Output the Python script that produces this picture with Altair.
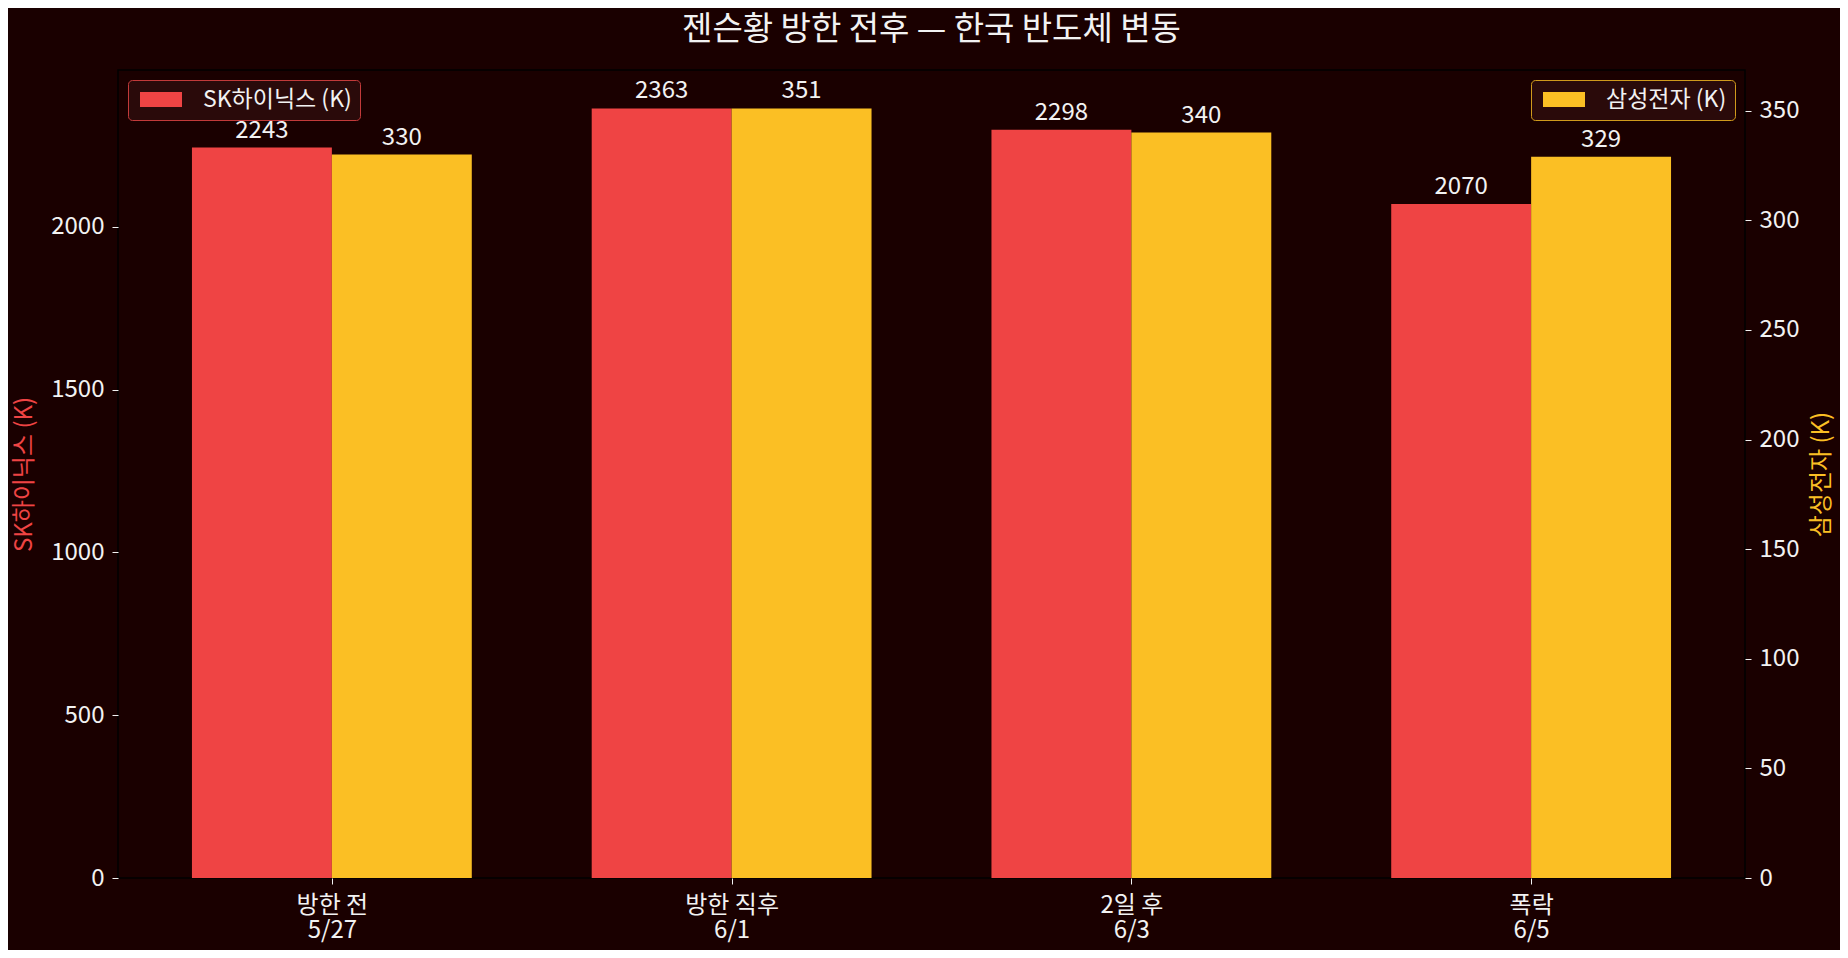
import altair as alt
import pandas as pd

categories = ["방한 전", "방한 직후", "2일 후", "폭락"]
dates = ["5/27", "6/1", "6/3", "6/5"]
sk_hynix = [2243, 2363, 2298, 2070]
samsung = [330, 351, 340, 329]
sk_label = "SK하이닉스 (K)"
ss_label = "삼성전자 (K)"
title_text = "젠슨황 방한 전후 — 한국 반도체 변동"

RED = "#ef4444"
YEL = "#fbbf24"
BG = "#1a0000"
TXT = "#f2f2f2"
FONT = "Noto Sans CJK KR"
FS = 24

W, H = 1627, 808
BW = 0.35
n = len(categories)

df = pd.DataFrame({"idx": list(range(n)), "sk": sk_hynix, "ss": samsung})

label_expr = "[" + ",".join(f"['{c}','{d}']" for c, d in zip(categories, dates)) + "][datum.value]"

xscale = alt.Scale(domain=[-BW - 0.185, n - 1 + BW + 0.185], nice=False, zero=False)
xaxis = alt.Axis(values=list(range(n)), labelExpr=label_expr, title=None, domain=False,
                 tickColor=TXT, tickSize=6, labelColor=TXT, labelFontSize=FS, labelFont=FONT,
                 labelPadding=9, labelBaseline="top", labelLineHeight=25, grid=False)

yl_scale = alt.Scale(domain=[0, max(sk_hynix) * 1.05], nice=False)
yr_scale = alt.Scale(domain=[0, max(samsung) * 1.05], nice=False)

common_axis = dict(domain=False, grid=False, tickColor=TXT, tickSize=6, labelColor=TXT,
                   labelFontSize=FS, labelFont=FONT, labelPadding=8, format="d",
                   titleFont=FONT, titleFontSize=FS, titleFontWeight="normal",
                   titleAngle=270, titleY=H / 2, titleAlign="center", titleBaseline="middle")
yl_axis = alt.Axis(orient="left", values=[0, 500, 1000, 1500, 2000], title=sk_label,
                   titleColor=RED, titleX=-94, **common_axis)
yr_axis = alt.Axis(orient="right", values=[0, 50, 100, 150, 200, 250, 300, 350], title=ss_label,
                   titleColor=YEL, titleX=76, **common_axis)

legend_common = dict(title=None, offset=10, padding=8, cornerRadius=4, fillColor="#2a0a0a",
                     symbolType="M-1,-1L4.6,-1L4.6,1L-1,1Z", symbolSize=225,
                     symbolStrokeWidth=0, labelFontSize=23, labelFont=FONT, labelColor=TXT,
                     labelOffset=44)

base = alt.Chart(df).transform_calculate(
    xl=f"datum.idx - {BW}", xm=f"datum.idx - {BW / 2}", xc="datum.idx",
    xr=f"datum.idx + {BW / 2}", xe=f"datum.idx + {BW}")

red_bar = base.transform_calculate(series=f"'{sk_label}'").mark_bar().encode(
    x=alt.X("xl:Q", scale=xscale, axis=xaxis), x2="xc:Q",
    y=alt.Y("sk:Q", scale=yl_scale, axis=yl_axis), y2=alt.datum(0),
    color=alt.Color("series:N",
                    scale=alt.Scale(domain=[sk_label], range=[RED]),
                    legend=alt.Legend(orient="top-left", strokeColor="#c23a3a", **legend_common)))
red_text = base.mark_text(dy=-10, baseline="alphabetic", fontSize=FS, font=FONT, color=TXT).encode(
    x=alt.X("xm:Q", scale=xscale, axis=xaxis),
    y=alt.Y("sk:Q", scale=yl_scale, axis=yl_axis),
    text=alt.Text("sk:Q"))

yel_bar = base.transform_calculate(series=f"'{ss_label}'").mark_bar().encode(
    x=alt.X("xc:Q", scale=xscale, axis=xaxis), x2="xe:Q",
    y=alt.Y("ss:Q", scale=yr_scale, axis=yr_axis), y2=alt.datum(0),
    color=alt.Color("series:N",
                    scale=alt.Scale(domain=[ss_label], range=[YEL]),
                    legend=alt.Legend(orient="top-right", strokeColor="#d09a1c", **legend_common)))
yel_text = base.mark_text(dy=-10, baseline="alphabetic", fontSize=FS, font=FONT, color=TXT).encode(
    x=alt.X("xr:Q", scale=xscale, axis=xaxis),
    y=alt.Y("ss:Q", scale=yr_scale, axis=yr_axis),
    text=alt.Text("ss:Q"))

red = alt.layer(red_bar, red_text)
yel = alt.layer(yel_bar, yel_text)

chart = alt.layer(red, yel).resolve_scale(y="independent", color="independent").properties(
    width=W, height=H,
    title=alt.TitleParams(text=title_text, fontSize=33, font=FONT, color=TXT, fontWeight="normal",
                          anchor="middle", baseline="alphabetic", offset=-3, frame="group"),
    autosize=alt.AutoSizeParams(type="none"),
    padding={"left": 110, "top": 62, "right": 95, "bottom": 72},
    background=BG,
).configure_view(stroke="#000000", strokeWidth=1.5)

chart.save("out.html", embed_options={"renderer": "svg", "actions": False})
